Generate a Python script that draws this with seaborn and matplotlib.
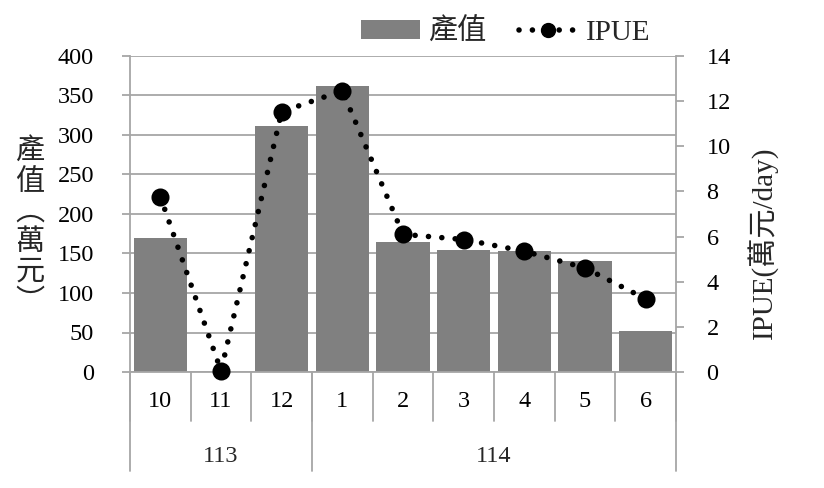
import numpy as np
import pandas as pd
import matplotlib
matplotlib.use("Agg")
import matplotlib.pyplot as plt
import matplotlib.transforms as mtransforms
from matplotlib.patches import Patch
from matplotlib.lines import Line2D
import seaborn as sns

# ---- data ----
months = ["10", "11", "12", "1", "2", "3", "4", "5", "6"]
value = [170, 0, 311, 362, 164, 155, 153, 141, 52]          # 產值 (萬元)
ipue = [7.77, 0.05, 11.53, 12.46, 6.1, 5.87, 5.35, 4.61, 3.24]  # IPUE (萬元/day)
year_labels = ["113", "114"]
year_counts = [3, 6]

sns.set_style("white")
plt.rcParams["font.family"] = ["Liberation Serif", "Noto Sans CJK TC", "DejaVu Sans"]

BAR = "#808080"
GRID = "#a6a6a6"
DOTS = (0, (0.01, 2.4))
LW = 4.0

fig = plt.figure(figsize=(8.24, 4.88), dpi=100)
ax = fig.add_axes([130 / 824, 1 - 372 / 488, (676 - 130) / 824, (372 - 56) / 488])

df = pd.DataFrame({"month": months, "value": value, "ipue": ipue})
sns.barplot(data=df, x="month", y="value", order=months, color=BAR,
            width=0.88, linewidth=0, saturation=1, ax=ax)
ax.set_ylim(0, 400)
ax.set_yticks(np.arange(0, 401, 50))
ax.set_xlim(-0.5, len(months) - 0.5)
ax.set_axisbelow(True)
ax.yaxis.grid(True, color=GRID, linewidth=1.3)
ax.xaxis.grid(False)
ax.set_xlabel("")
ax.set_ylabel("")
for s in ["top", "right"]:
    ax.spines[s].set_visible(False)
for s in ["left", "bottom"]:
    ax.spines[s].set_color(GRID)
    ax.spines[s].set_linewidth(1.3)
ax.tick_params(axis="y", which="both", left=True, length=6, width=1.3,
               color=GRID, labelsize=17.5, pad=20, labelcolor="black")
ax.tick_params(axis="x", length=0, labelsize=17.5, pad=14, labelcolor="black")

ax2 = ax.twinx()
sns.pointplot(x=np.arange(len(months)), y=ipue, native_scale=True, color="black",
              errorbar=None, markers="o", markersize=10,
              linestyle=DOTS, linewidth=LW, dash_capstyle="round",
              ax=ax2, clip_on=False)
ax2.set_ylim(0, 14)
ax2.set_yticks(np.arange(0, 15, 2))
ax2.set_xlim(-0.5, len(months) - 0.5)
for s in ["top", "left", "bottom"]:
    ax2.spines[s].set_visible(False)
ax2.spines["right"].set_color(GRID)
ax2.spines["right"].set_linewidth(1.3)
ax2.tick_params(axis="y", right=True, length=6, width=1.3, color=GRID,
                labelsize=17.5, pad=16, labelcolor="black")
ax2.set_ylabel("")
ax2.set_xlabel("")
ax2.grid(False)

# ---- category table below the axis ----
trans = mtransforms.blended_transform_factory(ax.transData, ax.transAxes)
for b in np.arange(len(months) + 1) - 0.5:
    ax.plot([b, b], [0, -0.155], transform=trans, color=GRID, lw=1.3, clip_on=False)
edges = np.concatenate([[0], np.cumsum(year_counts)]) - 0.5
for b in edges:
    ax.plot([b, b], [0, -0.313], transform=trans, color=GRID, lw=1.3, clip_on=False)
for lab, lo, hi in zip(year_labels, edges[:-1], edges[1:]):
    ax.text((lo + hi) / 2, -0.266, lab, transform=trans, ha="center", va="center",
            fontsize=17.5)

# ---- axis titles ----
fig.text(30 / 824, 1 - 227 / 488, "產\n值\n︵\n萬\n元\n︶", ha="center", va="center",
         fontsize=21, linespacing=1.0, family=["Noto Sans CJK TC"])
fig.text(762 / 824, 1 - 243 / 488, "IPUE(萬元/day)", rotation=90, ha="center",
         va="center", fontsize=21)

# ---- legend ----
handles = [Patch(facecolor=BAR, edgecolor="none", label="產值"),
           Line2D([0], [0], color="black", linestyle=DOTS, linewidth=LW,
                  dash_capstyle="round", marker="o", markersize=10, label="IPUE")]
fig.legend(handles=handles, loc="center", bbox_to_anchor=(0.614, 0.934), ncol=2,
           frameon=False, fontsize=21, handlelength=2.0, handleheight=0.6,
           handletextpad=0.3, columnspacing=1.1, borderaxespad=0)

fig.savefig("out.png", dpi=100)
